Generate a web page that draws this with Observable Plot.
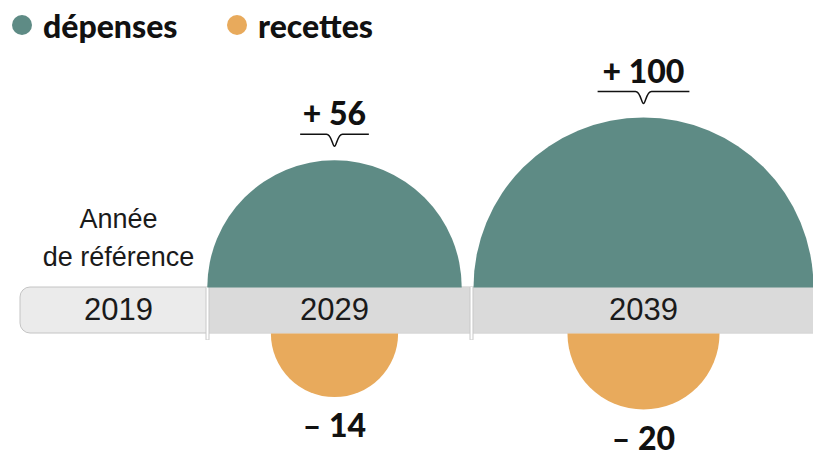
<!DOCTYPE html>
<html><head><meta charset="utf-8">
<script src="https://cdn.jsdelivr.net/npm/d3@7"></script>
<script src="https://cdn.jsdelivr.net/npm/@observablehq/plot@0.6"></script>
<style>
body{margin:0;overflow:hidden;background:#fff;}
#legend{height:50px;position:relative;font-family:Lato,"Noto Sans",sans-serif;}
.item{position:absolute;top:0;height:50px;display:flex;align-items:center;font-weight:900;font-size:32px;color:#111;}
.sw{width:20px;height:20px;border-radius:50%;margin-right:11px;}
#chart svg{display:block;}
</style></head><body>
<div id="legend"></div>
<div id="chart"></div>
<script>
// ---- data ----
const years = [2019, 2029, 2039];
const referenceYear = 2019;
const projectionYears = [2029, 2039];
const depenses = [56, 100];
const recettes = [-14, -20];
const seriesNames = ["dépenses", "recettes"];
const refLabel = "Année\nde référence";

// ---- styles ----
const COLORS = {"dépenses": "#5e8b85", "recettes": "#e8aa5c"};
const BOLD = "Lato, 'Noto Sans', sans-serif";
const LIGHT = "'Liberation Sans', Arial, sans-serif";

const dep = projectionYears.map((year, i) => ({year, value: depenses[i]}));
const rec = projectionYears.map((year, i) => ({year, value: recettes[i]}));

// legend
const legend = document.getElementById("legend");
const legendLeft = [12, 227];
seriesNames.forEach((name, i) => {
  const it = document.createElement("div");
  it.className = "item";
  it.style.left = legendLeft[i] + "px";
  it.innerHTML = `<span class="sw" style="background:${COLORS[name]}"></span><span>${name}</span>`;
  legend.appendChild(it);
});

// scales (each year is the centre of a ten-year period)
const xOpts = {type: "linear", domain: [2014, 2019, 2024, 2029, 2034, 2039, 2044], range: [20, 118, 207, 334, 471, 643, 825]};
const yOpts = {type: "linear", domain: [-1, 1], range: [283, 237]};
const rOpts = {type: "sqrt", domain: [0, 100], range: [0, 170]};
const yS = Plot.scale({y: yOpts});
const rS = Plot.scale({r: rOpts});

const upperHalf = {draw(ctx, size) { const r = Math.sqrt(size / Math.PI); ctx.moveTo(r, 0); ctx.arc(0, 0, r, 0, Math.PI, true); ctx.closePath(); }};
const lowerHalf = {draw(ctx, size) { const r = Math.sqrt(size / Math.PI); ctx.moveTo(r, 0); ctx.arc(0, 0, r, 0, Math.PI, false); ctx.closePath(); }};
const brace = {draw(ctx, size) {
  const w = 0.27 * Math.sqrt(size / Math.PI);
  ctx.moveTo(-w, 0); ctx.lineTo(-8, 0);
  ctx.bezierCurveTo(-3, 0, -2, 12, 0, 12);
  ctx.bezierCurveTo(2, 12, 3, 0, 8, 0);
  ctx.lineTo(w, 0);
}};

const depLabelY = d => yS.invert(yS.apply(1) - rS.apply(d.value) - 26);
const recLabelY = d => yS.invert(yS.apply(-1) + rS.apply(-d.value) + 40);

const chart = Plot.plot({
  width: 813, height: 408, margin: 0,
  x: {...xOpts, axis: null},
  y: {...yOpts, axis: null},
  r: rOpts,
  marks: [
    Plot.rect([years], {x1: ys => ys[0] - 5, x2: ys => ys[ys.length - 1] + 5, y1: () => -1, y2: () => 1, fill: "#ebebeb", stroke: "#c4c4c4", strokeWidth: 1, rx: 10}),
    Plot.rect(projectionYears, {x1: d => d - 5, x2: d => d + 5, y1: () => -1, y2: () => 1, fill: "#dadada", insetTop: 0.6, insetBottom: 0.6}),
    Plot.ruleX(projectionYears, {x: d => d - 5, y1: () => -1.3, y2: () => 1, stroke: "#c8c8c8", strokeWidth: 4}),
    Plot.ruleX(projectionYears, {x: d => d - 5, y1: () => -1.28, y2: () => 1, stroke: "#ffffff", strokeWidth: 2}),
    Plot.dot(dep, {x: "year", y: () => 1, r: "value", symbol: upperHalf, fill: COLORS["dépenses"], stroke: "none"}),
    Plot.dot(rec, {x: "year", y: () => -1, r: d => -d.value, symbol: lowerHalf, fill: COLORS["recettes"], stroke: "none"}),
    Plot.text(years, {x: d => d, y: () => 0, text: d => String(d), fontSize: 31, fontWeight: 400, fill: "#1a1a1a", fontFamily: LIGHT}),
    Plot.text([referenceYear], {x: d => d, y: () => 1, text: () => refLabel, lineAnchor: "bottom", dy: -22, lineHeight: 1.4, fontSize: 27, fontWeight: 400, fill: "#1a1a1a", fontFamily: LIGHT}),
    Plot.dot(dep, {x: "year", y: depLabelY, r: "value", symbol: brace, fill: "none", stroke: "#111", strokeWidth: 1.5}),
    Plot.text(dep, {x: "year", y: depLabelY, text: d => `+ ${d.value}`, lineAnchor: "bottom", dy: -9, fontSize: 32, fontWeight: 900, fill: "#111", fontFamily: BOLD}),
    Plot.text(rec, {x: "year", y: recLabelY, text: d => `– ${-d.value}`, lineAnchor: "bottom", fontSize: 32, fontWeight: 900, fill: "#111", fontFamily: BOLD})
  ]
});
document.getElementById("chart").appendChild(chart);
</script>
</body></html>
